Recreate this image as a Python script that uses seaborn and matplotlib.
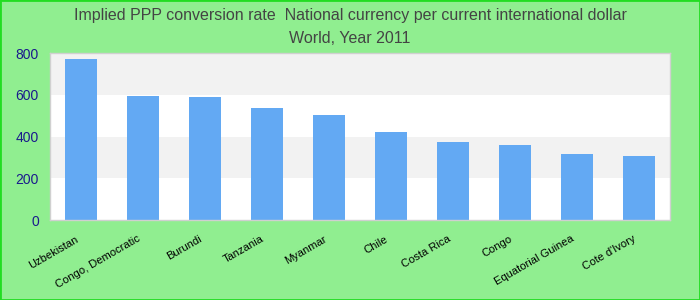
import matplotlib
matplotlib.use("Agg")
import matplotlib.pyplot as plt
import matplotlib.transforms as mtransforms
import seaborn as sns
import pandas as pd
from matplotlib import font_manager

countries = ["Uzbekistan", "Congo, Democratic", "Burundi", "Tanzania", "Myanmar",
             "Chile", "Costa Rica", "Congo", "Equatorial Guinea", "Cote d'Ivory"]
values = [771, 594, 589, 537, 503, 422, 374, 359, 316, 307]
yticks = [0, 200, 400, 600, 800]

df = pd.DataFrame({"country": countries, "value": values})

sns.set_style("white")
plt.rcParams['font.family'] = ['Liberation Sans', 'DejaVu Sans']

names = {f.name for f in font_manager.fontManager.ttflist}
title_family = ['Liberation Sans Narrow', 'Liberation Sans'] if 'Liberation Sans Narrow' in names else ['Liberation Sans']
title_size = 13.5 if 'Liberation Sans Narrow' in names else 11.5

fig = plt.figure(figsize=(7, 3), dpi=100, facecolor="#90EE90")
ax = fig.add_axes([50/700, 80/300, 620/700, 167/300])
ax.set_facecolor("white")
for lo, hi in [(200, 400), (600, 800)]:
    ax.axhspan(lo, hi, color="#f2f2f2", zorder=0, lw=0)

sns.barplot(data=df, x="country", y="value", color="#63A9F3", saturation=1,
            width=0.52, ax=ax, zorder=2, linewidth=0)
ax.set_xlim(-0.5, len(countries) - 0.5)
ax.set_ylim(0, 800)
ax.set_yticks(yticks)
ax.set_yticklabels([str(t) for t in yticks], color="#1a1a8c", fontsize=10)
ax.set_xlabel("")
ax.set_ylabel("")
ax.tick_params(axis="y", length=0, pad=8)
ax.tick_params(axis="x", length=0, pad=10)
shift = mtransforms.ScaledTranslation(-6/100, 0, fig.dpi_scale_trans)
for lbl in ax.get_xticklabels():
    lbl.set_rotation(30)
    lbl.set_ha("right")
    lbl.set_rotation_mode("anchor")
    lbl.set_fontsize(8)
    lbl.set_color("black")
    lbl.set_transform(lbl.get_transform() + shift)
for s in ax.spines.values():
    s.set_color("#d0d0d0")
    s.set_linewidth(1)

fig.text(0.5, 0.947, "Implied PPP conversion rate  National currency per current international dollar",
         ha="center", va="center", fontsize=title_size, color="#444444", family=title_family)
fig.text(0.5, 0.873, "World, Year 2011", ha="center", va="center", fontsize=title_size,
         color="#444444", family=title_family)

border = plt.Rectangle((0, 0), 1, 1, transform=fig.transFigure, fill=False,
                       edgecolor="#22dd22", linewidth=2, zorder=10)
fig.patches.append(border)

fig.savefig("out.png", dpi=100, facecolor=fig.get_facecolor())
